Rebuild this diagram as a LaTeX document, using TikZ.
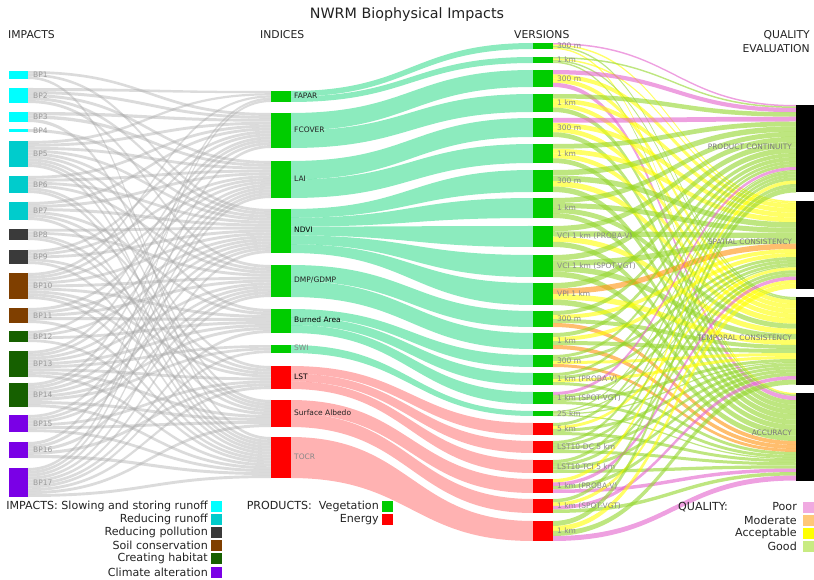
\documentclass[tikz,border=0pt]{standalone}
\usepackage{fontspec}
\setmainfont{DejaVu Sans}
\pgfdeclarelayer{back}
\pgfsetlayers{back,main}
% node colours
\definecolor{impA}{HTML}{00FFFF}
\definecolor{impB}{HTML}{00CCCC}
\definecolor{impC}{HTML}{3A3A3A}
\definecolor{impD}{HTML}{7F3F00}
\definecolor{impE}{HTML}{166000}
\definecolor{impF}{HTML}{7A00E6}
\definecolor{veg}{HTML}{00CC00}
\definecolor{en}{HTML}{FF0000}
% link colours
\definecolor{vegLinkC}{RGB}{0,210,110}
\definecolor{goodC}{RGB}{147,213,43}
\definecolor{accC}{RGB}{255,255,0}
\definecolor{poorC}{RGB}{227,97,203}
\definecolor{modC}{RGB}{255,147,13}
% legend swatches
\definecolor{poorL}{RGB}{240,170,225}
\definecolor{modL}{RGB}{255,200,120}
\definecolor{accL}{RGB}{255,255,0}
\definecolor{goodL}{RGB}{200,235,130}
\definecolor{ink}{HTML}{222222}
\definecolor{lab}{HTML}{888888}
\begin{document}
\begin{tikzpicture}[x=1pt,y=-1pt,
  box/.style={inner sep=0pt,outer sep=0pt,anchor=north west},
  graylink/.style={fill=gray!70,fill opacity=0.4},
  veglink/.style={fill=vegLinkC,fill opacity=0.45},
  enlink/.style={fill=en,fill opacity=0.3},
  qG/.style={fill=goodC,fill opacity=0.6},
  qA/.style={fill=accC,fill opacity=0.6},
  qP/.style={fill=poorC,fill opacity=0.6},
  qM/.style={fill=modC,fill opacity=0.6},
  small/.style={font=\fontsize{7.5}{8}\selectfont,inner sep=0pt,anchor=west},
  head/.style={font=\fontsize{10.8}{12}\selectfont,text=ink,inner sep=0pt},
  legend/.style={font=\fontsize{11.1}{12}\selectfont,text=ink,inner sep=0pt,anchor=east},
  swatch/.style={inner sep=0pt,outer sep=0pt,minimum width=11pt,minimum height=11pt,anchor=west}]
\useasboundingbox (0,0) rectangle (814,580);

% title and column heads
\node[head,font=\fontsize{14.3}{16}\selectfont] (title) at (407,15) {NWRM Biophysical Impacts};
\node[head,anchor=west] (hImp) at (8,35) {IMPACTS};
\node[head,anchor=west] (hInd) at (260,35) {INDICES};
\node[head,anchor=west] (hVer) at (514,35) {VERSIONS};
\node[head,anchor=east] (hQa) at (810,35) {QUALITY};
\node[head,anchor=east] (hQb) at (810,48.5) {EVALUATION};

% impacts column
\foreach \i/\tp/\bt/\c in {1/71/79/impA,2/88/103/impA,3/112/122/impA,4/129/132/impA,
  5/141/167/impB,6/176/193/impB,7/202/220/impB,8/229/240/impC,9/250/264/impC,
  10/273/299/impD,11/308/323/impD,12/331/342/impE,13/351/377/impE,14/383/407/impE,
  15/415/432/impF,16/442/458/impF,17/468/497/impF}{
  \pgfmathsetmacro\hh{\bt-\tp}
  \expandafter\xdef\csname bph\i\endcsname{\hh}
  \node[box,fill=\c,minimum width=19pt,minimum height=\hh pt] (bp\i) at (9,\tp) {};
  \node[small,text=lab!85] (bpl\i) at (33,{(\tp+\bt)/2}) {BP\i};
}

% indices column (field \nin: number of incoming impact links)
\foreach \i/\tp/\bt/\c/\lc/\nin/\lab in {1/91/102/veg/ink/5/FAPAR,2/113/148/veg/ink/12/FCOVER,
  3/161/198/veg/ink/13/LAI,4/209/253/veg/black/15/NDVI,5/265/297/veg/ink/11/DMP\slash GDMP,
  6/309/333/veg/black/8/Burned Area,7/345/353/veg/lab/3/SWI,8/366/389/en/black/8/LST,
  9/400/427/en/ink/9/Surface Albedo,10/437/478/en/lab/14/TOCR}{
  \pgfmathsetmacro\hh{\bt-\tp}
  \expandafter\xdef\csname ixh\i\endcsname{\hh}
  \expandafter\xdef\csname ixn\i\endcsname{\nin}
  \node[box,fill=\c,minimum width=19.5pt,minimum height=\hh pt] (ix\i) at (271,\tp) {};
  \node[small,text=\lc] (ixl\i) at (294,{(\tp+\bt)/2-1}) {\lab};
}

% versions column
\foreach \i/\tp/\bt/\c/\lab in {1/43/49/veg/300 m,2/57/63/veg/1 km,3/70/87/veg/300 m,
  4/94/112/veg/1 km,5/118/137/veg/300 m,6/144/163/veg/1 km,7/170/192/veg/300 m,
  8/198/218/veg/1 km,9/226/247/veg/VCI 1 km (PROBA-V),10/255/277/veg/VCI 1 km (SPOT-VGT),
  11/283/305/veg/VPI 1 km,12/311/327/veg/300 m,13/333/349/veg/1 km,14/355/367/veg/300 m,
  15/373/385/veg/1 km (PROBA-V),16/392/404/veg/1 km (SPOT-VGT),17/411/416/veg/25 km,
  18/423/435/en/5 km,19/441/453/en/LST10-DC 5 km,20/460/473/en/LST10-TCI 5 km,
  21/479/493/en/1 km (PROBA-V),22/499/513/en/1 km (SPOT-VGT),23/521/541/en/1 km}{
  \pgfmathsetmacro\hh{\bt-\tp}
  \expandafter\xdef\csname vrh\i\endcsname{\hh}
  \node[box,fill=\c,minimum width=20pt,minimum height=\hh pt] (vr\i) at (533,\tp) {};
  \node[small,text=lab] (vrl\i) at (557,{(\tp+\bt)/2}) {\lab};
}

% quality column
\foreach \i/\tp/\ly/\lab in {1/105/147/PRODUCT CONTINUITY,2/201/242/SPATIAL CONSISTENCY,
  3/297/338/TEMPORAL CONSISTENCY,4/393/433/ACCURACY}{
  \node[box,fill=black,minimum width=18pt,minimum height=87.5pt] (q\i) at (796,\tp) {};
  \node[small,anchor=east,font=\fontsize{7.4}{8}\selectfont,text=lab!90!black] (ql\i) at (792,\ly) {\lab};
}

\begin{pgfonlayer}{back}
% impacts -> indices
\foreach \tg in {1,...,10}{\expandafter\xdef\csname ixin\tg\endcsname{0}}
\foreach \src/\n/\tl in {1/3/{2,4,10},2/5/{1,2,3,4,5},3/3/{2,3,9},4/1/{4},
  5/9/{1,2,3,4,5,6,8,9,10},6/6/{2,3,4,5,9,10},7/6/{2,3,4,6,8,10},8/4/{4,5,9,10},
  9/5/{2,3,4,8,10},10/9/{1,2,3,4,5,6,8,9,10},11/5/{3,4,5,6,10},12/4/{2,4,6,10},
  13/9/{2,3,4,5,6,7,8,9,10},14/8/{2,3,4,5,6,7,9,10},15/6/{3,4,5,8,9,10},
  16/5/{1,3,5,8,10},17/10/{1,2,3,4,5,6,7,8,9,10}}{
  \edef\sh{\csname bph\src\endcsname}
  \pgfmathsetmacro\sw{\sh/\n}
  \foreach \tg [count=\k from 0] in \tl {
    \edef\th{\csname ixh\tg\endcsname}
    \edef\tn{\csname ixn\tg\endcsname}
    \pgfmathsetmacro\tw{\th/\tn}
    \edef\slot{\csname ixin\tg\endcsname}
    \pgfmathsetmacro\ya{\k*\sw}
    \pgfmathsetmacro\yb{(\k+1)*\sw}
    \pgfmathsetmacro\yc{\slot*\tw}
    \pgfmathsetmacro\yd{(\slot+1)*\tw}
    \fill[graylink] ([yshift=-\ya pt]bp\src.north east) .. controls +(120,0) and +(-120,0) .. ([yshift=-\yc pt]ix\tg.north west)
      -- ([yshift=-\yd pt]ix\tg.north west) .. controls +(-120,0) and +(120,0) .. ([yshift=-\yb pt]bp\src.north east) -- cycle;
    \pgfmathtruncatemacro\nslot{\slot+1}
    \expandafter\xdef\csname ixin\tg\endcsname{\nslot}
  }
}
% indices -> versions
\foreach \ix/\n/\vl in {1/2/{1,2},2/2/{3,4},3/2/{5,6},4/5/{7,8,9,10,11},5/2/{12,13},
  6/3/{14,15,16},7/1/{17},8/3/{18,19,20},9/2/{21,22},10/1/{23}}{
  \edef\sh{\csname ixh\ix\endcsname}
  \pgfmathsetmacro\bw{\sh/\n}
  \ifnum\ix<8 \def\lk{veglink}\else\def\lk{enlink}\fi
  \foreach \vv [count=\k from 0] in \vl {
    \pgfmathsetmacro\ya{\k*\bw}
    \pgfmathsetmacro\yb{(\k+1)*\bw}
    \fill[\lk] ([yshift=-\ya pt]ix\ix.north east) .. controls +(120,0) and +(-120,0) .. (vr\vv.north west)
      -- (vr\vv.south west) .. controls +(-120,0) and +(120,0) .. ([yshift=-\yb pt]ix\ix.north east) -- cycle;
  }
}
% versions -> quality criteria
\foreach \qq in {1,...,4}{\expandafter\xdef\csname qo\qq\endcsname{0}}
\foreach \vv/\ql in {1/{P,A,G,A},2/{G,A,G,G},3/{P,A,A,P},4/{G,A,A,G},5/{P,A,A,G},
  6/{G,A,A,G},7/{G,G,A,G},8/{G,G,G,G},9/{G,G,A,G},10/{G,G,G,G},11/{G,M,A,G},
  12/{G,A,G,M},13/{G,A,G,M},14/{G,G,A,M},15/{G,G,A,G},16/{P,G,G,G},17/{G,G,G,G},
  18/{G,A,G,G},19/{G,G,G,G},20/{G,G,G,G},21/{A,P,G,P},22/{G,A,P,G},23/{G,A,G,P}}{
  \edef\sh{\csname vrh\vv\endcsname}
  \pgfmathsetmacro\bw{\sh/4}
  \foreach \c [count=\qq] in \ql {
    \pgfmathsetmacro\ya{(\qq-1)*\bw}
    \pgfmathsetmacro\yb{\qq*\bw}
    \edef\yc{\csname qo\qq\endcsname}
    \pgfmathsetmacro\yd{\yc+\bw}
    \fill[q\c] ([yshift=-\ya pt]vr\vv.north east) .. controls +(120,0) and +(-120,0) .. ([yshift=-\yc pt]q\qq.north west)
      -- ([yshift=-\yd pt]q\qq.north west) .. controls +(-120,0) and +(120,0) .. ([yshift=-\yb pt]vr\vv.north east) -- cycle;
    \expandafter\xdef\csname qo\qq\endcsname{\yd}
  }
}
\end{pgfonlayer}

% legends
\node[legend] (li1) at (208,506) {IMPACTS: Slowing and storing runoff};
\node[legend] (li2) at (208,519.2) {Reducing runoff};
\node[legend] (li3) at (208,532.4) {Reducing pollution};
\node[legend] (li4) at (208,545.6) {Soil conservation};
\node[legend] (li5) at (208,558.8) {Creating habitat};
\node[legend] (li6) at (208,572) {Climate alteration};
\foreach \i/\c in {1/impA,2/impB,3/impC,4/impD,5/impE,6/impF}{
  \node[swatch,fill=\c] (si\i) at (211,{506+13.2*(\i-1)}) {};
}
\node[legend] (lp1) at (379,506) {PRODUCTS:\ \ Vegetation};
\node[legend] (lp2) at (379,519.2) {Energy};
\node[swatch,fill=veg] (sp1) at (382,506) {};
\node[swatch,fill=en] (sp2) at (382,519.2) {};
\node[head,anchor=west,font=\fontsize{11.1}{12}\selectfont] (lq0) at (678,507) {QUALITY:};
\node[legend] (lq1) at (797,507) {Poor};
\node[legend] (lq2) at (797,520) {Moderate};
\node[legend] (lq3) at (797,533) {Acceptable};
\node[legend] (lq4) at (797,546) {Good};
\node[swatch,fill=poorL] (sq1) at (803,507) {};
\node[swatch,fill=modL] (sq2) at (803,520) {};
\node[swatch,fill=accL] (sq3) at (803,533) {};
\node[swatch,fill=goodL] (sq4) at (803,546) {};
\end{tikzpicture}
\end{document}
